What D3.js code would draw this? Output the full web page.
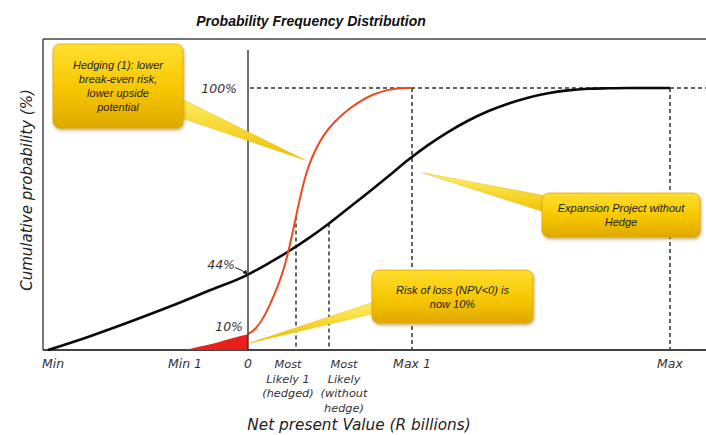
<!DOCTYPE html>
<html><head><meta charset="utf-8">
<script src="https://cdn.jsdelivr.net/npm/d3@7"></script>
<style>body{margin:0;background:#fff}svg{display:block}</style>
</head><body>
<svg id="c" width="706" height="435"></svg>
<script>
// ---- data (x in NPV units, 0 = break-even; y = cumulative probability) ----
const tickNames = ["Min", "Min 1", "0", "Most|Likely 1|(hedged)", "Most|Likely|(without|hedge)", "Max 1", "Max"];
const tickValues = [-10, -3.15, 0, 2.4, 4.05, 8.2, 21.1];
const unhedgedX = [-10, -8, -6, -4, -2, 0, 1, 2, 3, 4, 5, 6, 7, 8, 9, 10, 11, 12, 13, 14, 15, 16, 17, 18, 19, 21.1];
const unhedgedP = [0, 0.05, 0.105, 0.163, 0.225, 0.288, 0.33, 0.375, 0.425, 0.48, 0.54, 0.6, 0.662, 0.725, 0.782, 0.832, 0.875, 0.911, 0.94, 0.963, 0.98, 0.991, 0.997, 0.999, 1.0, 1.0];
const hedgedX = [-3.15, -2.4, -1.57, -0.75, 0, 0.4, 0.8, 1.2, 1.5, 1.8, 2.1, 2.4, 2.7, 3.0, 3.4, 3.8, 4.3, 4.9, 5.5, 6.2, 7.0, 7.6, 8.2];
const hedgedP = [0, 0.013, 0.028, 0.046, 0.06, 0.08, 0.125, 0.19, 0.245, 0.31, 0.40, 0.51, 0.615, 0.7, 0.77, 0.823, 0.87, 0.912, 0.945, 0.975, 0.994, 1.0, 1.0];
const percentLabels = ["100%", "44%", "10%"];
const percentValues = [1.0, 0.288, 0.06];
const calloutTexts = [
  ["Hedging (1): lower", "break-even risk,", "lower upside", "potential"],
  ["Expansion Project without", "Hedge"],
  ["Risk of loss (NPV<0) is", "now  10%"]
];
// callout boxes [x0, x1, p0(top), p1(bottom)] and pointer tips [x, p], in data units
const calloutBoxes = [[-9.75, -3.25, 1.168, 0.847], [14.7, 22.6, 0.599, 0.431], [6.2, 14.25, 0.305, 0.103]];
const calloutTips = [[2.85, 0.725], [8.75, 0.676], [0.1, 0.027]];
const calloutBases = [[[-3.9, 0.98], [-3.5, 0.89]], [[15.1, 0.585], [15.1, 0.52]], [[6.6, 0.19], [6.6, 0.145]]];

const W = 706, H = 435;
const svg = d3.select("#c");
const x = d3.scaleLinear().domain([-10.25, 22.9]).range([43, 706]);
const y = d3.scaleLinear().domain([0, 1]).range([350, 88]);
const yTop = 1.187;

const defs = svg.append("defs");
const g1 = defs.append("linearGradient").attr("id", "yel").attr("x1", 0).attr("y1", 0).attr("x2", 0).attr("y2", 1);
g1.append("stop").attr("offset", "0%").attr("stop-color", "#ffdf30");
g1.append("stop").attr("offset", "55%").attr("stop-color", "#f6c600");
g1.append("stop").attr("offset", "100%").attr("stop-color", "#dea800");
const g2 = defs.append("linearGradient").attr("id", "ptr").attr("x1", 0).attr("y1", 0).attr("x2", 0).attr("y2", 1);
g2.append("stop").attr("offset", "0%").attr("stop-color", "#fff06a");
g2.append("stop").attr("offset", "100%").attr("stop-color", "#f0c000");
const f = defs.append("filter").attr("id", "sh").attr("x", "-20%").attr("y", "-20%").attr("width", "140%").attr("height", "150%");
f.append("feDropShadow").attr("dx", 1).attr("dy", 2).attr("stdDeviation", 1.6).attr("flood-color", "#a07000").attr("flood-opacity", 0.55);
defs.append("marker").attr("id", "arr").attr("viewBox", "0 0 10 10").attr("refX", 9).attr("refY", 5)
  .attr("markerWidth", 5).attr("markerHeight", 5).attr("orient", "auto")
  .append("path").attr("d", "M0,0L10,5L0,10z").attr("fill", "#222");

// title
svg.append("text").attr("x", 311).attr("y", 26).attr("text-anchor", "middle")
  .attr("font-family", "Liberation Sans, Arial, sans-serif").attr("font-weight", "bold").attr("font-style", "italic")
  .attr("font-size", 14).attr("fill", "#111").text("Probability Frequency Distribution");

// frame: left border, top border
svg.append("line").attr("x1", x.range()[0]).attr("x2", x.range()[1]).attr("y1", y(yTop)).attr("y2", y(yTop)).attr("stroke", "#444").attr("stroke-width", 1.6);
svg.append("line").attr("x1", x.range()[0]).attr("x2", x.range()[0]).attr("y1", y(yTop)).attr("y2", y(0)).attr("stroke", "#555").attr("stroke-width", 1.6);

// dashed reference lines
const dash = svg.append("g").attr("stroke", "#333").attr("stroke-width", 1.5).attr("stroke-dasharray", "4,3").attr("fill", "none");
dash.append("line").attr("x1", x(0.1)).attr("x2", W).attr("y1", y(1)).attr("y2", y(1));
const interp = (xs, ps, v) => { const i = d3.bisectLeft(xs, v); if (i <= 0) return ps[0]; if (i >= xs.length) return ps[ps.length - 1];
  const t = (v - xs[i - 1]) / (xs[i] - xs[i - 1]); return ps[i - 1] + t * (ps[i] - ps[i - 1]); };
const dashTops = [interp(hedgedX, hedgedP, tickValues[3]), interp(unhedgedX, unhedgedP, tickValues[4]), 1, 1];
[3, 4, 5, 6].forEach((k, j) => dash.append("line").attr("x1", x(tickValues[k])).attr("x2", x(tickValues[k]))
  .attr("y1", y(dashTops[j])).attr("y2", y(0)));

// bottom axis line
svg.append("line").attr("x1", x.range()[0]).attr("x2", W).attr("y1", y(0)).attr("y2", y(0)).attr("stroke", "#444").attr("stroke-width", 1.8);

// red loss area (hedged, NPV<0)
const hedged = hedgedX.map((v, i) => [v, hedgedP[i]]);
const unhedged = unhedgedX.map((v, i) => [v, unhedgedP[i]]);
const lossPts = hedged.filter(d => d[0] <= 0);
svg.append("path").datum(lossPts)
  .attr("d", d3.area().x(d => x(d[0])).y0(y(0)).y1(d => y(d[1])).curve(d3.curveMonotoneX))
  .attr("fill", "#e8201c");

// curves
svg.append("path").datum(unhedged).attr("d", d3.line().x(d => x(d[0])).y(d => y(d[1])).curve(d3.curveMonotoneX))
  .attr("fill", "none").attr("stroke", "#0a0a0a").attr("stroke-width", 2.6);
svg.append("path").datum(hedged.filter(d => d[0] >= 0)).attr("d", d3.line().x(d => x(d[0])).y(d => y(d[1])).curve(d3.curveBasis))
  .attr("fill", "none").attr("stroke", "#ec4a1e").attr("stroke-width", 2);

// zero vertical line
svg.append("line").attr("x1", x(0)).attr("x2", x(0)).attr("y1", y(1.145)).attr("y2", y(0)).attr("stroke", "#333").attr("stroke-width", 1.4);

// percent labels
const lab = "DejaVu Sans, Verdana, sans-serif";
const plx = [x(0) - 11, x(0) - 13, x(0) - 5];
const ply = [y(percentValues[0]) + 5, y(percentValues[1] + 0.04) + 5, y(percentValues[2] + 0.03) + 5];
percentLabels.forEach((t, i) => svg.append("text").attr("x", plx[i]).attr("y", ply[i]).attr("text-anchor", "end")
  .attr("font-family", lab).attr("font-style", "italic").attr("font-size", 12.5).attr("fill", "#333").text(t));
svg.append("path").attr("d", `M${x(-0.65)},${y(0.315)} Q${x(-0.25)},${y(0.305)} ${x(-0.03)},${y(percentValues[1])}`)
  .attr("fill", "none").attr("stroke", "#222").attr("stroke-width", 1).attr("marker-end", "url(#arr)");

// x tick labels
tickNames.forEach((t, i) => {
  const lines = t.split("|");
  const tx = svg.append("text").attr("text-anchor", "middle").attr("font-family", lab).attr("font-style", "italic")
    .attr("font-size", lines.length > 1 ? 11.3 : 12.5).attr("fill", "#333");
  const cx = x(tickValues[i]) + (i === 0 ? 5 : (i === 3 ? -8 : (i === 4 ? 15 : 0)));
  lines.forEach((l, j) => tx.append("tspan").attr("x", cx).attr("y", 368 + j * 14.5).text(l));
});

// axis titles
svg.append("text").attr("x", 359).attr("y", 430).attr("text-anchor", "middle").attr("font-family", lab)
  .attr("font-style", "italic").attr("font-size", 15.3).attr("fill", "#222").text("Net present Value (R billions)");
svg.append("text").attr("transform", "translate(32,190) rotate(-90)").attr("text-anchor", "middle").attr("font-family", lab)
  .attr("font-style", "italic").attr("font-size", 15).attr("fill", "#222").text("Cumulative probability (%)");

// callouts
const cf = "Liberation Sans, Arial, sans-serif";
calloutBoxes.forEach((b, i) => {
  const g = svg.append("g");
  const tip = calloutTips[i], base = calloutBases[i];
  g.append("path").attr("d", `M${x(base[0][0])},${y(base[0][1])} L${x(tip[0])},${y(tip[1])} L${x(base[1][0])},${y(base[1][1])} Z`)
    .attr("fill", "url(#ptr)").attr("stroke", "#e6b800").attr("stroke-width", 0.5);
  const bx = x(b[0]), by = y(b[2]), bw = x(b[1]) - x(b[0]), bh = y(b[3]) - y(b[2]);
  g.append("rect").attr("x", bx).attr("y", by).attr("width", bw).attr("height", bh).attr("rx", 7)
    .attr("fill", "url(#yel)").attr("stroke", "#e0a800").attr("stroke-width", 0.8).attr("filter", "url(#sh)");
  const lines = calloutTexts[i];
  const lh = 14;
  const t0 = by + bh / 2 - (lines.length - 1) * lh / 2 + 4;
  const tx = g.append("text").attr("text-anchor", "middle").attr("font-family", cf).attr("font-style", "italic")
    .attr("font-size", 11).attr("fill", "#222");
  lines.forEach((l, j) => tx.append("tspan").attr("x", bx + bw / 2).attr("y", t0 + j * lh).text(l));
});
</script>
</body></html>
